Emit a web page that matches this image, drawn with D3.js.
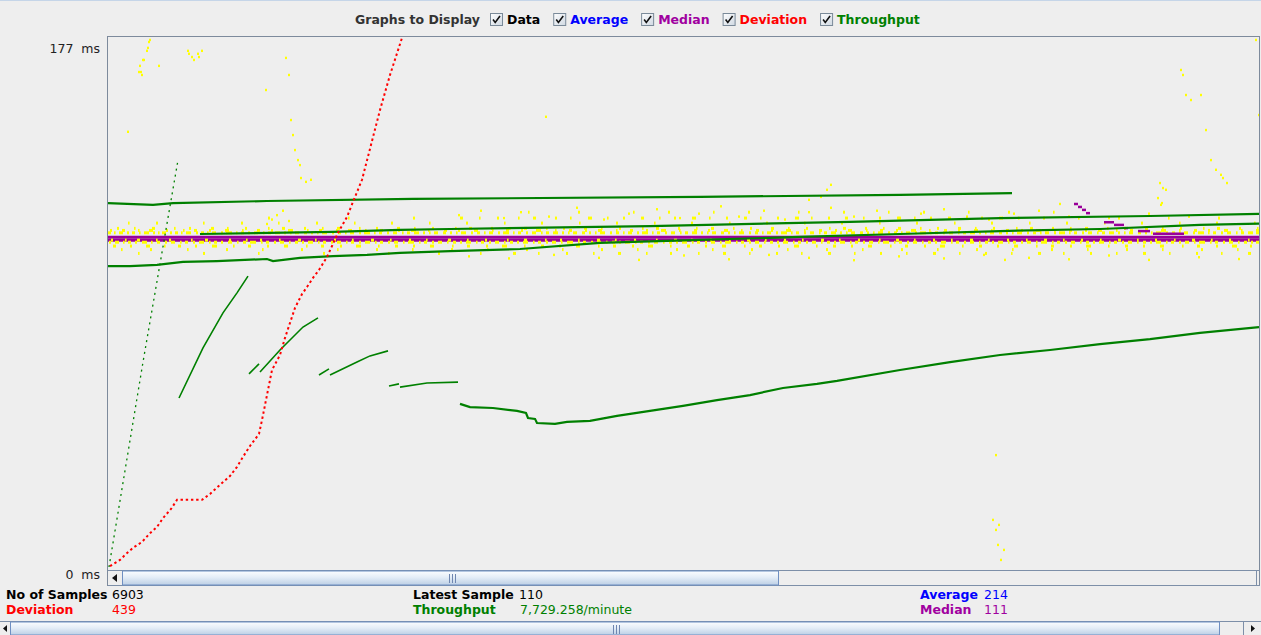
<!DOCTYPE html>
<html><head><meta charset="utf-8">
<script src="https://cdn.jsdelivr.net/npm/d3@7"></script>
<style>
html,body{margin:0;padding:0;background:#eeeeee;overflow:hidden;}
svg{display:block;font-family:"DejaVu Sans",sans-serif;}
</style></head><body>
<svg id="c" width="1261" height="635"></svg>
<script>
// ---------------- DATA ----------------
const legendLabels = ["Data", "Average", "Median", "Deviation", "Throughput"];
const yTickValues = [0, 177];
const yUnit = "ms";
const statNames = ["No of Samples", "Deviation", "Latest Sample", "Throughput", "Average", "Median"];
const statValues = ["6903", "439", "110", "7,729.258/minute", "214", "111"];

// data (yellow) runs of consecutive samples at one level: [startSample, length]
const dataLevels = [120.5, 118.5, 116.8, 115, 114.3, 113.5, 111, 110.3, 109, 107.8, 106.5];
const dataRuns120 = [[420,1],[470,2],[525,1],[560,2],[605,1],[640,2],[690,1],[735,2],[780,1],[815,2],[860,1],[900,2],[945,1]];
const dataRuns118 = [[160,2],[240,1],[305,2],[352,3],[371,1],[389,2],[410,1],[425,3],[447,2],[462,1],[480,4],[499,1],[515,2],[533,3],[551,1],[566,2],[584,4],[601,1],[618,2],[636,3],[652,1],[669,2],[687,4],[703,1],[720,2],[737,3],[755,1],[771,2],[789,4],[806,1],[822,2],[840,3],[858,1],[873,2],[891,4],[910,1],[935,2],[970,1],[1010,2],[1060,1],[1110,2]];
const dataRuns117 = [[20,1],[48,2],[95,1],[133,2],[170,1],[208,2],[246,1],[283,2],[321,1],[358,2],[396,1],[433,2],[471,1],[508,2],[546,1],[583,2],[621,1],[658,2],[696,1],[733,2],[771,1],[808,2],[846,1],[883,2],[921,1],[958,2],[996,1],[1033,2],[1071,1],[1108,2],[1146,1]];
const dataRuns115 = [[9,2],[26,1],[44,3],[66,1],[81,2],[103,3],[119,1],[137,2],[160,1],[174,3],[196,2],[214,1],[229,3],[251,1],[268,2],[289,3],[306,1],[324,2],[347,1],[361,3],[383,2],[401,1],[416,3],[438,1],[455,2],[476,3],[493,1],[511,2],[534,1],[548,3],[570,2],[588,1],[603,3],[625,1],[642,2],[663,3],[680,1],[698,2],[721,1],[735,3],[757,2],[775,1],[790,3],[812,1],[829,2],[850,3],[867,1],[885,2],[908,1],[922,3],[944,2],[962,1],[977,3],[999,1],[1016,2],[1037,3],[1054,1],[1072,2],[1095,1],[1109,3],[1131,2],[1149,1]];
const dataRuns114 = [[2,2],[14,3],[30,1],[41,4],[58,2],[75,1],[86,3],[101,2],[117,4],[134,1],[149,3],[163,2],[180,5],[199,1],[211,3],[228,2],[240,4],[257,1],[272,3],[290,2],[303,5],[320,1],[336,3],[350,2],[366,4],[384,1],[398,3],[413,2],[428,5],[447,1],[461,3],[477,2],[490,4],[508,1],[522,3],[538,2],[553,5],[571,1],[586,3],[600,2],[616,4],[633,1],[648,3],[663,2],[678,5],[696,1],[711,3],[727,2],[740,4],[758,1],[772,3],[788,2],[803,5],[821,1],[836,3],[850,2],[866,4],[883,1],[898,3],[913,2],[928,5],[946,1],[961,3],[977,2],[990,4],[1008,1],[1022,3],[1038,2],[1053,5],[1071,1],[1086,3],[1100,2],[1116,4],[1133,1],[1148,3]];
const dataRuns113 = [[0,3],[6,1],[11,4],[19,2],[24,3],[31,1],[36,5],[45,2],[50,1],[54,4],[62,2],[67,3],[73,1],[78,5],[88,2],[93,3],[99,1],[104,4],[113,2],[118,6],[128,1],[133,3],[140,2],[146,4],[155,1],[160,3],[167,5],[176,2],[182,1],[187,4],[196,3],[203,2],[209,1],[214,5],[224,2],[230,3],[237,1],[242,4],[251,2],[256,6],[266,1],[271,3],[279,2],[285,4],[294,1],[299,3],[306,5],[315,2],[321,1],[326,4],[335,3],[342,2],[348,1],[353,5],[363,2],[369,3],[376,1],[381,4],[390,2],[395,6],[405,1],[410,3],[418,2],[424,4],[433,1],[438,3],[445,5],[454,2],[460,1],[465,4],[474,3],[481,2],[487,1],[492,5],[502,2],[508,3],[515,1],[520,4],[529,2],[534,6],[544,1],[549,3],[557,2],[563,4],[572,1],[577,3],[584,5],[593,2],[599,1],[604,4],[613,3],[620,2],[626,1],[631,5],[641,2],[647,3],[654,1],[659,4],[668,2],[673,6],[683,1],[688,3],[696,2],[702,4],[711,1],[716,3],[723,5],[732,2],[738,1],[743,4],[752,3],[759,2],[765,1],[770,5],[780,2],[786,3],[793,1],[798,4],[807,2],[812,6],[822,1],[827,3],[835,2],[841,4],[850,1],[855,3],[862,5],[871,2],[877,1],[882,4],[891,3],[898,2],[904,1],[909,5],[919,2],[925,3],[932,1],[937,4],[946,2],[951,6],[961,1],[966,3],[974,2],[980,4],[989,1],[994,3],[1001,5],[1010,2],[1016,1],[1021,4],[1030,3],[1037,2],[1043,1],[1048,5],[1058,2],[1064,3],[1071,1],[1076,4],[1085,2],[1090,6],[1100,1],[1105,3],[1113,2],[1119,4],[1128,1],[1133,3],[1140,5],[1148,3]];
const dataRuns111 = [[3,2],[17,1],[29,3],[48,1],[61,2],[83,1],[97,3],[121,2],[138,1],[152,2],[171,1],[190,3],[207,1],[226,2],[244,1],[263,3],[282,1],[301,2],[318,1],[340,3],[359,1],[377,2],[399,1],[416,3],[437,1],[452,2],[470,1],[489,3],[507,1],[526,2],[548,1],[566,3],[583,1],[602,2],[621,1],[639,3],[657,1],[676,2],[694,1],[713,3],[731,1],[750,2],[771,1],[788,3],[806,1],[825,2],[843,1],[862,3],[880,1],[899,2],[918,1],[936,3],[955,1],[973,2],[992,1],[1010,3],[1029,1],[1047,2],[1066,1],[1084,3],[1103,1],[1121,2],[1140,1]];
const dataRuns110 = [[1,2],[7,4],[15,1],[20,3],[27,2],[34,5],[43,1],[49,3],[57,2],[63,4],[72,1],[77,3],[85,2],[91,5],[101,1],[106,3],[113,2],[120,4],[129,1],[135,3],[142,6],[153,1],[158,3],[166,2],[172,4],[181,1],[187,3],[194,2],[200,5],[210,1],[215,3],[223,2],[229,4],[238,1],[243,3],[251,2],[257,5],[267,1],[272,3],[280,2],[286,4],[295,1],[300,6],[311,1],[316,3],[324,2],[330,4],[339,1],[345,3],[352,2],[358,5],[368,1],[373,3],[381,2],[387,4],[396,1],[402,3],[409,2],[415,5],[425,1],[430,3],[438,2],[444,4],[453,1],[459,6],[470,1],[475,3],[483,2],[489,4],[498,1],[504,3],[511,2],[517,5],[527,1],[532,3],[540,2],[546,4],[555,1],[561,3],[568,2],[574,5],[584,1],[589,3],[597,2],[603,4],[612,1],[617,6],[628,1],[633,3],[641,2],[647,4],[656,1],[662,3],[669,2],[675,5],[685,1],[690,3],[698,2],[704,4],[713,1],[719,3],[726,2],[732,5],[742,1],[747,3],[755,2],[761,4],[770,1],[775,6],[786,1],[791,3],[799,2],[805,4],[814,1],[820,3],[827,2],[833,5],[843,1],[848,3],[856,2],[862,4],[871,1],[877,3],[884,2],[890,5],[900,1],[905,3],[913,2],[919,4],[928,1],[933,6],[944,1],[949,3],[957,2],[963,4],[972,1],[978,3],[985,2],[991,5],[1001,1],[1006,3],[1014,2],[1020,4],[1029,1],[1035,3],[1042,2],[1048,5],[1058,1],[1063,3],[1071,2],[1077,4],[1086,1],[1091,6],[1102,1],[1107,3],[1115,2],[1121,4],[1130,1],[1136,3],[1143,2],[1148,4]];
const dataRuns109 = [[5,3],[22,2],[38,4],[56,1],[70,3],[87,2],[104,5],[125,1],[140,3],[159,2],[176,4],[198,1],[213,3],[232,2],[248,5],[270,1],[287,3],[305,2],[322,4],[344,1],[359,3],[378,2],[394,5],[416,1],[433,3],[451,2],[468,4],[490,1],[505,3],[524,2],[540,5],[562,1],[579,3],[597,2],[614,4],[636,1],[651,3],[670,2],[686,5],[708,1],[725,3],[743,2],[760,4],[782,1],[797,3],[816,2],[832,5],[854,1],[871,3],[889,2],[906,4],[928,1],[943,3],[962,2],[978,5],[1000,1],[1017,3],[1035,2],[1052,4],[1074,1],[1089,3],[1108,2],[1124,5],[1142,2]];
const dataRuns108 = [[13,1],[42,2],[79,1],[118,2],[154,1],[193,2],[229,1],[268,2],[304,1],[343,2],[379,1],[418,2],[454,1],[493,2],[529,1],[568,2],[604,1],[643,2],[679,1],[718,2],[754,1],[793,2],[829,1],[868,2],[904,1],[943,2],[979,1],[1018,2],[1054,1],[1093,2],[1129,1]];
const dataRuns106 = [[30,1],[95,2],[150,1],[215,2],[280,1],[330,2],[372,1],[405,3],[430,1],[458,2],[485,1],[510,3],[538,1],[562,2],[590,1],[615,3],[641,1],[668,2],[693,1],[720,3],[746,1],[772,2],[798,1],[825,3],[851,1],[877,2],[903,1],[930,3],[955,1],[982,2],[1008,1],[1035,3],[1061,1],[1088,2],[1113,1],[1140,3]];
// scattered single data samples: [sample, ms]
const dataPoints = [[41,179.0],[40,178.3],[39,176.3],[38,175.3],[35,172.2],[34,172.2],[31,170.2],[30,168.1],[32,168.1],[33,167.1],[50,170.2],[19,147.8],[79,175.3],[80,174.3],[83,173.2],[85,172.2],[89,174.3],[90,173.2],[93,175.3],[157,162.0],[177,172.9],[180,167.1],[182,151.8],[184,146.7],[186,141.6],[189,138.2],[191,136.5],[192,132.1],[197,130.8],[202,131.5],[437,152.9],[722,129.8],[718,128.1],[712,125.7],[700,124.7],[1072,168.8],[1074,167.1],[1077,160.3],[1082,158.6],[1092,160.3],[1097,148.4],[1102,138.2],[1107,134.9],[1112,133.2],[1114,132.1],[1147,179.0],[1150,153.5],[1052,123.0],[1057,128.1],[887,38.0],[884,16.0],[887,12.6],[889,7.5],[892,2.4],[895,5.8],[890,14.3],[1051,130.4],[1054,128.7],[1049,125.3],[1053,123.6],[1118,130.4],[951,123.3],[896,104.3],[158,116.5],[163,118],[168,119.5],[174,121],[180,117.5],[350,119.5],[372,121],[395,118.5],[412,120.5],[440,119],[468,122],[495,118],[520,120],[548,121.5],[571,118.5],[590,120],[612,122.5],[630,119],[655,121],[676,118],[700,120.5],[722,122],[745,119],[768,121],[790,118.5],[812,120],[835,121.5],[858,119],[880,118],[905,120],[930,121],[960,119],[1000,118.5],[1040,120],[1080,119],[360,105.5],[400,104.8],[445,106],[490,105],[530,104.3],[575,105.8],[620,104.5],[660,106],[700,105],[745,104.2],[790,105.5],[835,104.8],[875,106],[920,105],[960,104.5],[1000,105.8],[1040,104.3],[1090,105.2],[1130,104.6]];

// median (two overlapping passes) and its early stair: [startSample, length, ms]
const medianPassA = [[0,112.0],[1152,112.0]];
const medianPassB = [[0,111.0],[1152,111.0]];
const medianSteps = [[966,4,123.3],[970,4,122.3],[974,4,121.3],[978,4,120.2],[996,10,117.1],[1006,10,116.2],[1016,4,115.1],[1030,12,114.1],[1045,31,113.2]];

// deviation [sample, ms]
const deviation = [[2,0.3],[12,2.4],[18,4.4],[25,6.5],[34,8.5],[42,11.5],[49,13.6],[55,16.6],[63,19.7],[69,22.8],[94,22.8],[102,24.8],[112,27.9],[122,30.9],[129,34.0],[135,37.4],[142,41.1],[151,45.2],[154,49.9],[159,58.4],[164,66.9],[172,72.0],[177,77.8],[182,82.9],[187,88.0],[194,92.7],[199,95.1],[205,98.2],[211,100.9],[219,105.3],[230,113.5],[239,118.9],[245,124.0],[254,131.5],[272,155.2],[282,167.1],[294,179.7]];

// throughput passes [sample, value]
const throughputSteep = [[1,0.0],[35,69.6],[70,138.2]];
const throughputSeg1 = [[71,57.4],[95,74.4],[115,86.3],[129,93.1],[140,98.8]];
const throughputSeg2 = [[141,65.6],[151,69.0]];
const throughputSeg3 = [[152,66.2],[172,73.7],[195,81.5],[210,84.6]];
const throughputSeg4 = [[211,65.2],[221,67.3]];
const throughputSeg5 = [[222,65.2],[249,69.6],[262,71.7],[280,73.4]];
const throughputSeg6 = [[281,61.5],[291,62.2]];
const throughputSeg7 = [[292,61.1],[319,62.5],[350,62.8]];
const throughputSeg8 = [[352,55.4],[362,54.3],[385,54.0],[409,53.0],[418,52.3],[420,50.6],[427,50.3],[429,48.9],[447,48.6],[459,49.3],[482,49.6],[509,51.3],[542,53.0],[575,54.7],[609,56.7],[642,58.4],[675,60.8],[709,62.2],[729,63.2],[792,66.9],[842,69.6],[892,72.0],[942,73.7],[992,75.7],[1042,77.4],[1092,79.5],[1151,81.5]];
const throughputTop = [[0,123.6],[45,123.0],[65,123.6],[159,124.3],[305,125.0],[592,125.7],[792,126.4],[904,127.0]];
const throughputMidA = [[92,113.1],[225,113.8],[292,114.5],[342,114.8],[542,115.8],[742,117.2],[892,118.5],[1042,119.2],[1151,119.9]];
const throughputMidB = [[0,102.2],[22,102.2],[49,102.6],[75,103.6],[109,103.9],[159,104.6],[165,103.9],[192,105.0],[225,105.6],[259,106.0],[292,106.7],[342,107.3],[412,108.0],[492,110.1],[592,111.1],[692,112.1],[792,113.1],[892,114.1],[992,114.8],[1092,116.2],[1151,116.6]];

// ---------------- STYLE ----------------
const C = {data:"#ffff00", median:"#990099", deviation:"#ff0000", throughput:"#008000", average:"#0000ff", frame:"#7d8a9c"};
const legendColors = ["#000000", C.average, "#a000a0", C.deviation, C.throughput];
const statColors = ["#000000", C.deviation, "#000000", C.throughput, C.average, "#a000a0"];

const svg = d3.select("#c");
const W = 1261;
const plot = {x0:108, x1:1260, y0:37, y1:570};

const x = d3.scaleLinear().domain([0, 1152]).range([plot.x0, plot.x1]);
const y = d3.scaleLinear().domain([0, 180]).range([567, 37]);

const defs = svg.append("defs");
defs.append("clipPath").attr("id","clip").append("rect")
  .attr("x", plot.x0).attr("y", plot.y0).attr("width", plot.x1 - plot.x0 - 1).attr("height", plot.y1 - plot.y0);
const g1 = defs.append("linearGradient").attr("id","thumb").attr("x1",0).attr("y1",0).attr("x2",0).attr("y2",1);
g1.append("stop").attr("offset","0").attr("stop-color","#fbfdff");
g1.append("stop").attr("offset","0.45").attr("stop-color","#e4edf7");
g1.append("stop").attr("offset","1").attr("stop-color","#bccfe5");
const g2 = defs.append("linearGradient").attr("id","cb").attr("x1",0).attr("y1",0).attr("x2",1).attr("y2",1);
g2.append("stop").attr("offset","0").attr("stop-color","#ffffff");
g2.append("stop").attr("offset","1").attr("stop-color","#cfd8e2");

svg.append("line").attr("x1",0).attr("x2",W).attr("y1",0.5).attr("y2",0.5).attr("stroke","#c5d5e8");

// ---------- legend ----------
const leg = svg.append("g").attr("font-size", 12.5).attr("font-weight","bold");
leg.append("text").attr("x",355).attr("y",24).attr("fill","#333").text("Graphs to Display");
let lx = 490;
legendLabels.forEach((lab, i) => {
  const cb = leg.append("g").attr("transform", `translate(${lx},13)`);
  cb.append("rect").attr("x",0.5).attr("y",0.5).attr("width",12).attr("height",12).attr("fill","url(#cb)").attr("stroke","#7a8a99");
  cb.append("path").attr("d","M3,6.5 L5.2,9.5 L10,3").attr("fill","none").attr("stroke","#111").attr("stroke-width",1.6);
  const t = leg.append("text").attr("x", lx + 17).attr("y", 24).attr("fill", legendColors[i]).text(lab);
  lx = lx + 17 + t.node().getComputedTextLength() + 13;
});

// ---------- frame ----------
svg.append("rect").attr("x",107.5).attr("y",36.5).attr("width",1152).attr("height",549).attr("fill","none").attr("stroke",C.frame);

const yl = svg.append("g").attr("font-size",12.5).attr("fill","#222");
yTickValues.forEach(v => {
  const yy = v === 0 ? y(v) + 12 : y(v) + 7;
  yl.append("text").attr("x",100).attr("y",yy).attr("text-anchor","end").style("white-space","pre").text(v + "  " + yUnit);
});

// ---------- plot ----------
const pg = svg.append("g").attr("clip-path","url(#clip)");
const line = d3.line().x(d => x(d[0])).y(d => y(d[1]));

[medianPassA, medianPassB].forEach(s => {
  pg.append("path").datum(s).attr("d", line).attr("fill","none").attr("stroke",C.median).attr("stroke-width",3);
});

const runSets = [dataRuns120, dataRuns118, dataRuns117, dataRuns115, dataRuns114, dataRuns113, dataRuns111, dataRuns110, dataRuns109, dataRuns108, dataRuns106];
runSets.forEach((runs, k) => {
  pg.append("g").selectAll("rect").data(runs).join("rect")
    .attr("x", d => x(d[0])).attr("y", y(dataLevels[k]) - 1.5)
    .attr("width", d => Math.max(1.6, x(d[0] + d[1]) - x(d[0])))
    .attr("height", 3).attr("fill", C.data);
});
pg.append("g").selectAll("rect").data(dataPoints).join("rect")
  .attr("x", d => x(d[0])).attr("y", d => y(d[1]) - 1.2).attr("width",2).attr("height",2.4)
  .attr("fill", C.data);

pg.append("g").selectAll("rect").data(medianSteps).join("rect")
  .attr("x", d => x(d[0])).attr("y", d => y(d[2]) - 1.2)
  .attr("width", d => x(d[0] + d[1]) - x(d[0])).attr("height", 2.5).attr("fill", C.median);

[throughputSeg1, throughputSeg2, throughputSeg3, throughputSeg4, throughputSeg5, throughputSeg6, throughputSeg7].forEach(s => {
  pg.append("path").datum(s).attr("d", line).attr("fill","none").attr("stroke",C.throughput).attr("stroke-width",1.6);
});
[throughputSeg8, throughputTop, throughputMidA, throughputMidB].forEach(s => {
  pg.append("path").datum(s).attr("d", line).attr("fill","none").attr("stroke",C.throughput).attr("stroke-width",2.2);
});
pg.append("path").datum(throughputSteep).attr("d", line).attr("fill","none").attr("stroke",C.throughput)
  .attr("stroke-width",1.3).attr("stroke-dasharray","2,4");

pg.append("path").datum(deviation).attr("d", line).attr("fill","none").attr("stroke",C.deviation)
  .attr("stroke-width",2).attr("stroke-dasharray","2.4,2.8");

// ---------- inner scrollbar ----------
const sb = svg.append("g");
sb.append("rect").attr("x",108).attr("y",570).attr("width",1151).attr("height",16).attr("fill","#eeeeee");
sb.append("line").attr("x1",108).attr("x2",1260).attr("y1",570.5).attr("y2",570.5).attr("stroke","#7d8fa8");
sb.append("line").attr("x1",108).attr("x2",1260).attr("y1",585.5).attr("y2",585.5).attr("stroke","#7d8fa8");
sb.append("path").attr("d","M112,578 L117,574 L117,582 Z").attr("fill","#111");
sb.append("rect").attr("x",122.5).attr("y",571).attr("width",656).attr("height",14).attr("fill","url(#thumb)").attr("stroke","#6f8fc2");
[449,452,455].forEach(gx => sb.append("line").attr("x1",gx+0.5).attr("x2",gx+0.5).attr("y1",574).attr("y2",583).attr("stroke","#6f86b0"));
sb.append("line").attr("x1",1256.5).attr("x2",1256.5).attr("y1",571).attr("y2",585).attr("stroke","#7d8fa8");

// ---------- stats ----------
const st = svg.append("g").attr("font-size",12.5);
const statPos = [[6,112,599],[6,112,614],[413,519,599],[413,520,614],[920,984,599],[920,984,614]];
statNames.forEach((n, i) => {
  st.append("text").attr("x",statPos[i][0]).attr("y",statPos[i][2]).attr("font-weight","bold").attr("fill",statColors[i]).text(n);
  st.append("text").attr("x",statPos[i][1]).attr("y",statPos[i][2]).attr("fill",statColors[i]).text(statValues[i]);
});

// ---------- bottom scrollbar ----------
const bs = svg.append("g");
bs.append("line").attr("x1",0).attr("x2",W).attr("y1",621.5).attr("y2",621.5).attr("stroke","#7d8fa8");
bs.append("path").attr("d","M3,628.5 L7,625 L7,632 Z").attr("fill","#111");
bs.append("rect").attr("x",10.5).attr("y",622).attr("width",1209).attr("height",13).attr("fill","url(#thumb)").attr("stroke","#6f8fc2");
[613,616,619].forEach(gx => bs.append("line").attr("x1",gx+0.5).attr("x2",gx+0.5).attr("y1",625).attr("y2",634).attr("stroke","#6f86b0"));
bs.append("line").attr("x1",1243.5).attr("x2",1243.5).attr("y1",622).attr("y2",635).attr("stroke","#7d8fa8");
bs.append("path").attr("d","M1255,628.5 L1251,625 L1251,632 Z").attr("fill","#111");
</script>
</body></html>
